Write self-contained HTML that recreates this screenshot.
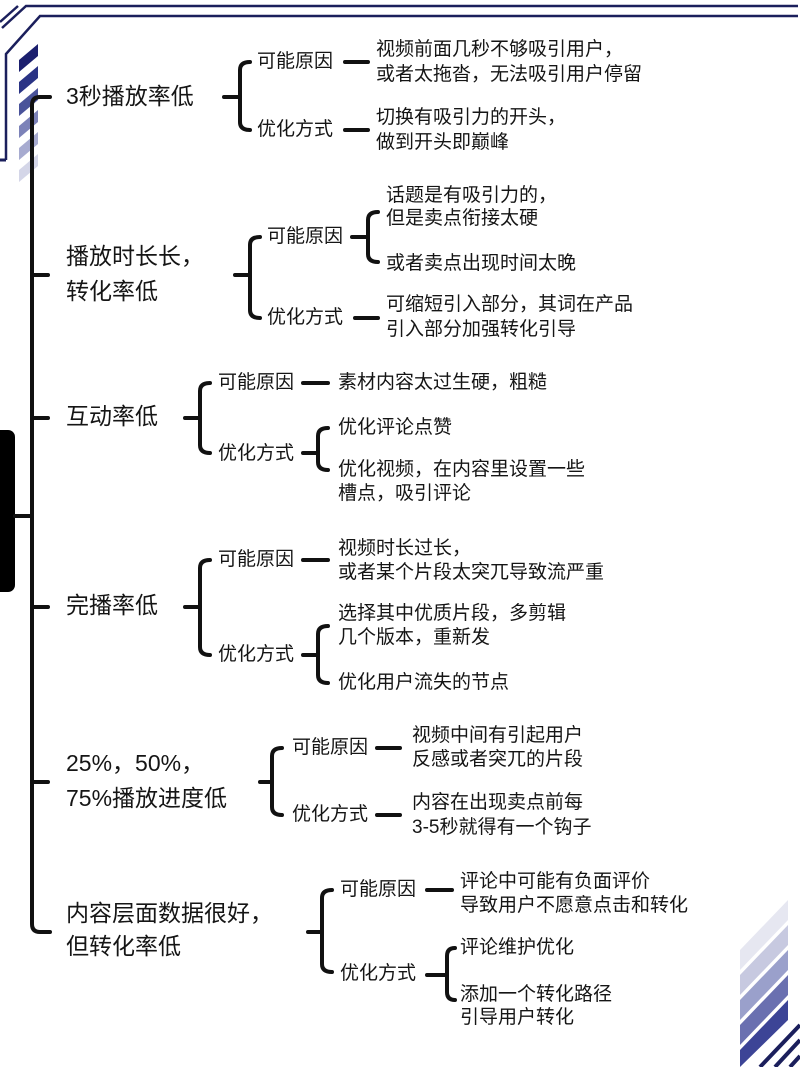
<!DOCTYPE html>
<html><head><meta charset="utf-8"><style>
html,body{margin:0;padding:0;background:#fff;}
svg{display:block}
text{font-family:"Liberation Sans","Noto Sans CJK SC",sans-serif;fill:#151515;dominant-baseline:middle}
.m{font-size:23px}
.s{font-size:19px}
.l{font-size:19px}
</style></head><body>
<svg width="800" height="1067" viewBox="0 0 800 1067" xmlns="http://www.w3.org/2000/svg">
<g stroke="#1b1f5c" stroke-width="2.5" fill="none">
<path d="M2 28 L26 6 L798 6"/>
<path d="M6 160 L6 54 L40 16 L798 16"/>
<path d="M0 22 L18 6" />
</g>
<path d="M0 160 L6 160" stroke="#1b1f5c" stroke-width="3"/>
<g>
<polygon points="19,60 38,44 38,56 19,72" fill="#1b1f6e"/>
<polygon points="19,82 38,66 38,78 19,94" fill="#2a3385"/>
<polygon points="19,104 38,88 38,100 19,116" fill="#4a539a"/>
<polygon points="19,126 38,110 38,122 19,138" fill="#7c82b8"/>
<polygon points="19,148 38,132 38,144 19,160" fill="#a7abd0"/>
<polygon points="19,170 38,154 38,166 19,182" fill="#d4d6e8"/>
</g>
<g>
<polygon points="740,950 788,900 788,920 740,970" fill="#e6e7f1"/>
<polygon points="740,975 788,925 788,945 740,995" fill="#c7c9e0"/>
<polygon points="740,1000 788,950 788,970 740,1020" fill="#9aa0cb"/>
<polygon points="740,1025 788,975 788,995 740,1045" fill="#6a70b0"/>
<polygon points="740,1050 788,1000 788,1020 740,1067" fill="#3c4496"/>
<path d="M760 1067 L800 1025 M775 1067 L800 1040 M790 1067 L800 1056" stroke="#1b1f5c" stroke-width="4"/>
</g>
<rect x="-10" y="430" width="25" height="162" rx="7" fill="#000"/>
<g stroke="#111" stroke-width="4" fill="none" stroke-linecap="round">
<path d="M15 516 L32 516"/>
<path d="M50 97 L40 97 Q32 97 32 105 L32 924 Q32 932 40 932 L50 932"/>
<path d="M32 275 L48 275 M32 418 L48 418 M32 607 L48 607 M32 782 L48 782"/>
<path d="M224 97 L240 97"/>
<path d="M250 62 Q240 62 240 70 L240 122 Q240 130 250 130"/>
<path d="M345 62 L368 62 M345 130 L368 130"/>
<path d="M235 275 L250 275"/>
<path d="M260 237 Q250 237 250 245 L250 310 Q250 318 260 318"/>
<path d="M352 237 L368 237"/>
<path d="M378 212 Q368 212 368 220 L368 254 Q368 262 378 262"/>
<path d="M355 318 L378 318"/>
<path d="M185 418 L200 418"/>
<path d="M210 383 Q200 383 200 391 L200 445 Q200 453 210 453"/>
<path d="M303 383 L328 383"/>
<path d="M303 453 L318 453"/>
<path d="M328 428 Q318 428 318 436 L318 462 Q318 470 328 470"/>
<path d="M185 607 L200 607"/>
<path d="M210 560 Q200 560 200 568 L200 647 Q200 655 210 655"/>
<path d="M303 560 L328 560"/>
<path d="M303 655 L318 655"/>
<path d="M328 626 Q318 626 318 634 L318 675 Q318 683 328 683"/>
<path d="M260 782 L272 782"/>
<path d="M282 748 Q272 748 272 756 L272 807 Q272 815 282 815"/>
<path d="M377 748 L400 748 M377 815 L400 815"/>
<path d="M308 932 L322 932"/>
<path d="M332 890 Q322 890 322 898 L322 964 Q322 972 332 972"/>
<path d="M427 890 L452 890"/>
<path d="M427 975 L447 975"/>
<path d="M455 948 Q447 948 447 956 L447 992 Q447 1000 455 1000"/>
</g>
<text class="m" x="66" y="98">3秒播放率低</text>
<text class="s" x="257" y="62">可能原因</text>
<text class="s" x="257" y="130">优化方式</text>
<text class="l" x="376" y="50">视频前面几秒不够吸引用户，</text>
<text class="l" x="376" y="75">或者太拖沓，无法吸引用户停留</text>
<text class="l" x="376" y="118">切换有吸引力的开头，</text>
<text class="l" x="376" y="143">做到开头即巅峰</text>

<text class="m" x="66" y="258">播放时长长，</text>
<text class="m" x="66" y="293">转化率低</text>
<text class="s" x="267" y="237">可能原因</text>
<text class="s" x="267" y="318">优化方式</text>
<text class="l" x="386" y="196">话题是有吸引力的，</text>
<text class="l" x="386" y="219">但是卖点衔接太硬</text>
<text class="l" x="386" y="264">或者卖点出现时间太晚</text>
<text class="l" x="386" y="305">可缩短引入部分，其词在产品</text>
<text class="l" x="386" y="330">引入部分加强转化引导</text>

<text class="m" x="66" y="418">互动率低</text>
<text class="s" x="218" y="383">可能原因</text>
<text class="s" x="218" y="454">优化方式</text>
<text class="l" x="338" y="383">素材内容太过生硬，粗糙</text>
<text class="l" x="338" y="428">优化评论点赞</text>
<text class="l" x="338" y="470">优化视频，在内容里设置一些</text>
<text class="l" x="338" y="494">槽点，吸引评论</text>

<text class="m" x="66" y="607">完播率低</text>
<text class="s" x="218" y="560">可能原因</text>
<text class="s" x="218" y="655">优化方式</text>
<text class="l" x="338" y="549">视频时长过长，</text>
<text class="l" x="338" y="573">或者某个片段太突兀导致流严重</text>
<text class="l" x="338" y="614">选择其中优质片段，多剪辑</text>
<text class="l" x="338" y="638">几个版本，重新发</text>
<text class="l" x="338" y="683">优化用户流失的节点</text>

<text class="m" x="66" y="765">25%，50%，</text>
<text class="m" x="66" y="800">75%播放进度低</text>
<text class="s" x="292" y="748">可能原因</text>
<text class="s" x="292" y="815">优化方式</text>
<text class="l" x="412" y="736">视频中间有引起用户</text>
<text class="l" x="412" y="760">反感或者突兀的片段</text>
<text class="l" x="412" y="803">内容在出现卖点前每</text>
<text class="l" x="412" y="828">3-5秒就得有一个钩子</text>

<text class="m" x="66" y="915">内容层面数据很好，</text>
<text class="m" x="66" y="948">但转化率低</text>
<text class="s" x="340" y="890">可能原因</text>
<text class="s" x="340" y="974">优化方式</text>
<text class="l" x="460" y="882">评论中可能有负面评价</text>
<text class="l" x="460" y="906">导致用户不愿意点击和转化</text>
<text class="l" x="460" y="948">评论维护优化</text>
<text class="l" x="460" y="995">添加一个转化路径</text>
<text class="l" x="460" y="1018">引导用户转化</text>
</svg>
</body></html>
